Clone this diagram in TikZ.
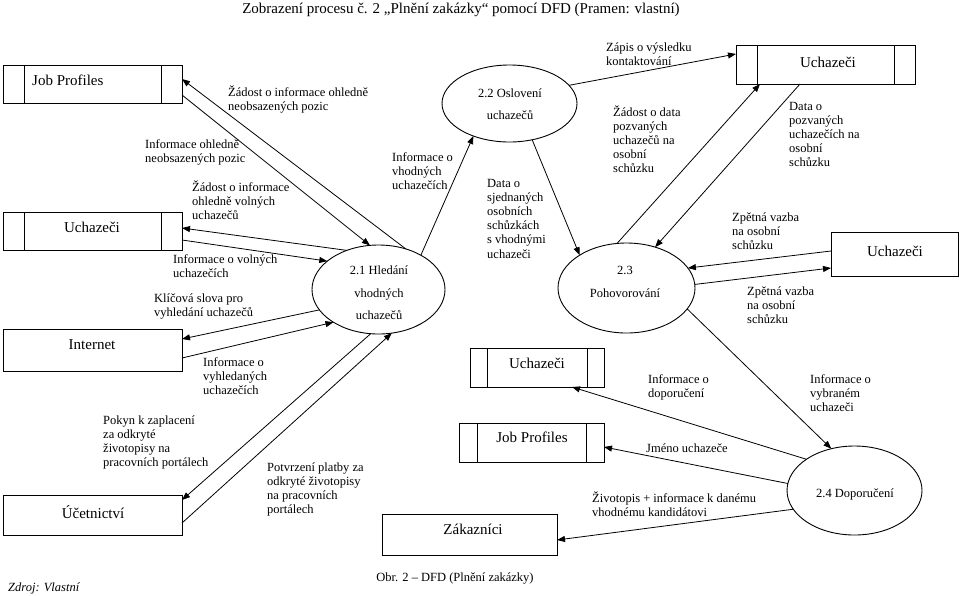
\documentclass[tikz,border=0pt]{standalone}
\usepackage{fontspec}
\setmainfont{Liberation Serif}
\usetikzlibrary{arrows.meta,shapes.geometric}
\tikzset{
  box/.style={draw, line width=0.9pt, inner sep=0pt, outer sep=0pt},
  store/.style={box, path picture={
      \draw[line width=0.9pt]
        ([xshift=#1]path picture bounding box.north west) -- ([xshift=#1]path picture bounding box.south west)
        ([xshift=-#1]path picture bounding box.north east) -- ([xshift=-#1]path picture bounding box.south east);}},
  proc/.style={draw, ellipse, line width=0.9pt, inner sep=0pt, outer sep=0pt},
  lbl/.style={font=\fontsize{12.5}{14.2}\selectfont, align=left, anchor=base west, inner sep=0pt},
  boxtxt/.style={font=\fontsize{15}{18}\selectfont, inner sep=0pt, anchor=base},
  ptxt/.style={font=\fontsize{12.5}{22.5}\selectfont, align=center, inner sep=0pt},
  flow/.style={-{Triangle[length=8pt,width=6pt]}, line width=0.8pt},
}
\begin{document}
\begin{tikzpicture}[x=1pt,y=-1pt]
\fill[white] (0,0) rectangle (960,595);
\useasboundingbox (0,0) rectangle (960,595);

% title and captions
\node[font=\fontsize{15}{18}\selectfont, anchor=base, inner sep=0pt] (title) at (461,13) {Zobrazení procesu č. 2 „Plnění zakázky“ pomocí DFD (Pramen: vlastní)};
\node[font=\fontsize{12.5}{15}\selectfont, anchor=base, inner sep=0pt] (caption) at (455,581) {Obr. 2 – DFD (Plnění zakázky)};
\node[font=\fontsize{12.5}{15}\selectfont\itshape, anchor=base west, inner sep=0pt] (zdroj) at (8,591) {Zdroj: Vlastní};

% left boxes
\node[store=21pt, minimum width=179pt, minimum height=38pt] (jp1) at (92.5,84) {};
\node[boxtxt, anchor=base west] (jp1t) at (32,85) {Job Profiles};
\node[store=21pt, minimum width=179pt, minimum height=38pt] (uc1) at (92.5,231) {};
\node[boxtxt] (uc1t) at (92,232) {Uchazeči};
\node[box, minimum width=179pt, minimum height=42pt] (in1) at (92.5,350) {};
\node[boxtxt] (in1t) at (92,349) {Internet};
\node[box, minimum width=179pt, minimum height=40pt] (uc2) at (92.5,515) {};
\node[boxtxt] (uc2t) at (93,518) {Účetnictví};

% right and middle boxes
\node[store=21pt, minimum width=179pt, minimum height=39pt] (ut) at (825.5,64.5) {};
\node[boxtxt] (utt) at (828,67) {Uchazeči};
\node[box, minimum width=127pt, minimum height=44pt] (um) at (894.5,254) {};
\node[boxtxt] (umt) at (895,256) {Uchazeči};
\node[store=17pt, minimum width=134pt, minimum height=39pt] (uc3) at (537,367.5) {};
\node[boxtxt] (uc3t) at (537,368) {Uchazeči};
\node[store=18pt, minimum width=145pt, minimum height=39pt] (jp2) at (531.5,442.5) {};
\node[boxtxt] (jp2t) at (532,442) {Job Profiles};
\node[box, minimum width=175pt, minimum height=41pt] (zk) at (469.5,534.5) {};
\node[boxtxt] (zkt) at (473,534) {Zákazníci};

% processes
\node[proc, minimum width=133pt, minimum height=89pt] (p21) at (378.5,289.5) {};
\node[ptxt] (p21t) at (379,293) {2.1 Hledání\\vhodných\\uchazečů};
\node[proc, minimum width=135pt, minimum height=77pt] (p22) at (509.5,103.5) {};
\node[ptxt] (p22t) at (510,104) {2.2 Oslovení\\uchazečů};
\node[proc, minimum width=137pt, minimum height=90pt] (p23) at (626.5,288) {};
\node[ptxt] (p23t) at (625,282) {2.3\\Pohovorování};
\node[proc, minimum width=135pt, minimum height=89pt] (p24) at (854.5,490.5) {};
\node[ptxt, anchor=base] (p24t) at (855,497) {2.4 Doporučení};

% flows
\draw[flow] (p21.56) -- ([yshift=5pt]jp1.east);
\draw[flow] ([yshift=-11pt]jp1.east) -- (p21.101);
\draw[flow] (p21.129) -- ([yshift=3pt]uc1.east);
\draw[flow] ([yshift=-9pt]uc1.east) -- (p21.151);
\draw[flow] (p21.199) -- ([yshift=11pt]in1.east);
\draw[flow] ([yshift=-8pt]in1.east) -- (p21.216);
\draw[flow] (p21.260) -- ([yshift=15pt]uc2.east);
\draw[flow] ([yshift=-8pt]uc2.east) -- (p21.287);
\draw[flow] (p21.39) -- (p22.222);
\draw[flow] (p22.302) -- (p23.145);
\draw[flow] (p22.17) -- ([yshift=10.5pt]ut.west);
\draw[flow] (p23.102) -- ([xshift=-65.5pt]ut.south);
\draw[flow] ([xshift=-25.5pt]ut.south) -- (p23.55);
\draw[flow] ([yshift=3pt]um.west) -- (p23.18);
\draw[flow] (p23.3) -- ([yshift=-14pt]um.west);
\draw[flow] (p23.341) -- (p24.119);
\draw[flow] (p24.147) -- ([xshift=35pt]uc3.south);
\draw[flow] (p24.174) -- ([yshift=-4.5pt]jp2.east);
\draw[flow] (p24.197) -- ([yshift=-5.5pt]zk.east);

% labels (anchored at the baseline of their last line)
\node[lbl] (l1) at (228,110.2) {Žádost o informace ohledně\\neobsazených pozic};
\node[lbl] (l2) at (145,162.2) {Informace ohledně\\neobsazených pozic};
\node[lbl] (l3) at (192,219.4) {Žádost o informace\\ohledně volných\\uchazečů};
\node[lbl] (l4) at (173,277.2) {Informace o volných\\uchazečích};
\node[lbl] (l5) at (154,316.2) {Klíčová slova pro\\vyhledání uchazečů};
\node[lbl] (l6) at (203,394.4) {Informace o\\vyhledaných\\uchazečích};
\node[lbl] (l7) at (103,466.6) {Pokyn k zaplacení\\za odkryté\\životopisy na\\pracovních portálech};
\node[lbl] (l8) at (267,513.6) {Potvrzení platby za\\odkryté životopisy\\na pracovních\\portálech};
\node[lbl] (l9) at (392,189.4) {Informace o\\vhodných\\uchazečích};
\node[lbl] (l10) at (487,258) {Data o\\sjednaných\\osobních\\schůzkách\\s vhodnými\\uchazeči};
\node[lbl] (l11) at (606,65.2) {Zápis o výsledku\\kontaktování};
\node[lbl] (l12) at (613,172.8) {Žádost o data\\pozvaných\\uchazečů na\\osobní\\schůzku};
\node[lbl] (l13) at (789,166.8) {Data o\\pozvaných\\uchazečích na\\osobní\\schůzku};
\node[lbl] (l14) at (732,249.4) {Zpětná vazba\\na osobní\\schůzku};
\node[lbl] (l15) at (747,323.4) {Zpětná vazba\\na osobní\\schůzku};
\node[lbl] (l16) at (810,411.4) {Informace o\\vybraném\\uchazeči};
\node[lbl] (l17) at (648,397.2) {Informace o\\doporučení};
\node[lbl] (l18) at (646,452) {Jméno uchazeče};
\node[lbl] (l19) at (592,516.2) {Životopis + informace k danému\\vhodnému kandidátovi};
\end{tikzpicture}
\end{document}
